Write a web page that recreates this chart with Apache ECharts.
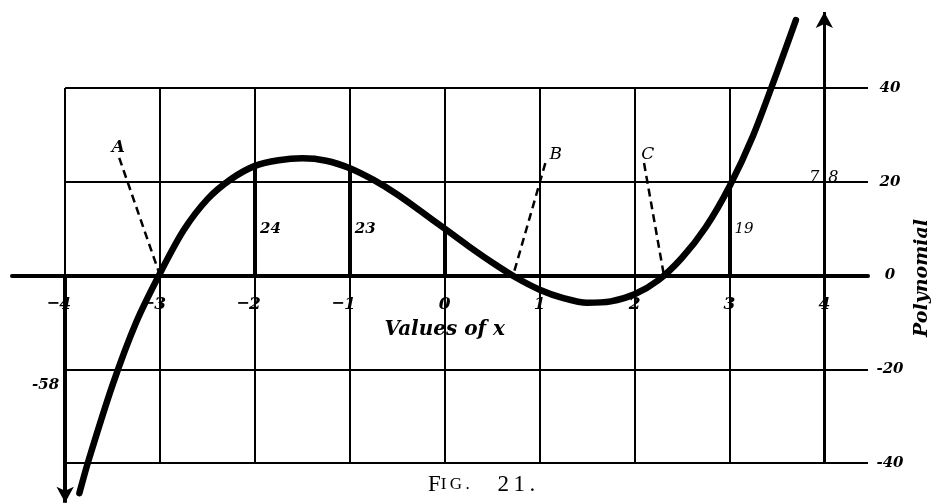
<!DOCTYPE html>
<html>
<head>
<meta charset="utf-8">
<script src="https://cdn.jsdelivr.net/npm/echarts@6/dist/echarts.min.js"></script>
<style>
html, body { margin: 0; padding: 0; background: #fff; }
#chart { width: 932px; height: 503px; }
</style>
</head>
<body>
<div id="chart"></div>
<script>
'use strict';

// values of x and of the polynomial
var xs = [-3.85, -3.75, -3.5, -3.25, -3, -2.75, -2.5, -2.25, -2, -1.75, -1.5, -1.25, -1,
    -0.75, -0.5, -0.25, 0, 0.25, 0.5, 0.75, 1, 1.25, 1.5, 1.75, 2, 2.25, 2.5, 2.75, 3,
    3.25, 3.5, 3.7];
var poly = [-46.4, -39.2, -23.3, -9.9, 0.5, 9.7, 16.3, 20.6, 23.4, 24.6, 25.0, 24.5, 22.9,
    20.4, 17.3, 13.7, 10, 6.3, 2.8, -0.4, -3, -4.8, -5.8, -5.5, -4, -1.0, 3.8, 10.3, 19,
    29.9, 43.3, 54.5];

// ordinates at whole values of x
var ordX = [-4, -2, -1, 0, 3, 4];
var ordY = [-58, 24, 23, 10, 19, 78];

// roots marked with letters
var rootName = ['A', 'B', 'C'];
var rootX = [-3, 0.72, 2.31];

// tick labels
var xTicks = [-4, -3, -2, -1, 0, 1, 2, 3, 4];
var yTicks = [-40, -20, 0, 20, 40];

var X_MIN = -4.56, X_MAX = 4.46, Y_MIN = -48.5, Y_MAX = 58;
var ink = '#000';
var serif = '"DejaVu Serif", "Liberation Serif", serif';
var times = '"Liberation Serif", "DejaVu Serif", serif';

function seg(x1, y1, x2, y2, width, type, endSymbol) {
    return [
        { coord: [x1, y1], symbol: 'none' },
        { coord: [x2, y2], symbol: endSymbol || 'none', symbolSize: [13, 16],
          lineStyle: { color: ink, width: width, type: type || 'solid' } }
    ];
}

// grid and construction lines
var lines = [];
yTicks.forEach(function (y) {
    if (y !== 0) lines.push(seg(-4, y, X_MAX, y, 2));
});
xTicks.forEach(function (x) {
    if (x !== 4) lines.push(seg(x, -40, x, 40, 2));
});
// polynomial axis with arrow
lines.push(seg(4, -40, 4, 56.2, 3, 'solid', 'arrow'));
ordX.forEach(function (x, i) {
    var y = ordY[i];
    if (y < Y_MIN) {
        lines.push(seg(x, 0, x, Y_MIN + 0.05, 4, 'solid', 'arrow'));
    } else if (x !== 4) {
        lines.push(seg(x, 0, x, y, 4));
    }
});
// dashed leaders from the letters to the roots
var tagTop = [[-3.43, 25.1], [1.06, 24], [2.10, 24]];
var tagPos = [[-3.44, 27.4], [1.17, 25.9], [2.14, 25.9]];
rootX.forEach(function (x, i) {
    lines.push(seg(tagTop[i][0], tagTop[i][1], x, 0, 2.5, [8, 5]));
});

// texts
var numFont = { fontFamily: serif, fontStyle: 'italic', fontWeight: 'bold', fontSize: 15, color: ink, opacity: 1 };
var texts = [];
ordX.forEach(function (x, i) {
    var y = ordY[i];
    var s = String(y);
    if (y < Y_MIN) {
        texts.push({ value: [x, -23.4], label: Object.assign({ position: 'left', distance: 6, formatter: s }, numFont) });
    } else if (y > Y_MAX) {
        texts.push({ value: [x, 20.8], label: Object.assign({ position: 'left', distance: 5, formatter: s.charAt(0) }, numFont, { fontWeight: 'normal', fontSize: 16 }) });
        texts.push({ value: [x, 20.8], label: Object.assign({ position: 'right', distance: 4, formatter: s.charAt(1) }, numFont, { fontWeight: 'normal', fontSize: 16 }) });
    } else if (x !== 0) {
        texts.push({ value: [x, 9.9], label: Object.assign({ position: 'right', distance: 5, formatter: s }, numFont, x === 3 ? { fontWeight: 'normal' } : {}) });
    }
});
rootName.forEach(function (n, i) {
    texts.push({ value: tagPos[i], label: { position: 'inside', formatter: n, fontFamily: serif, fontStyle: 'italic',
        fontWeight: i === 0 ? 'bold' : 'normal', fontSize: 17, color: ink, opacity: 1 } });
});
// values of x under the axis
xTicks.forEach(function (x) {
    texts.push({
        value: [x, 0],
        label: {
            position: 'bottom', distance: 20, opacity: 1,
            formatter: x < 0 ? '{m|\u2212}{d|' + (-x) + '}{p|}' : '{d|' + x + '}',
            rich: {
                m: { fontFamily: serif, fontWeight: 'bold', fontSize: 16, color: ink, width: 12 },
                d: { fontFamily: serif, fontStyle: 'italic', fontWeight: 'bold', fontSize: 17, color: ink },
                p: { width: 12 }
            }
        }
    });
});
texts.push({ value: [0, 0], label: { position: 'bottom', distance: 44, formatter: 'Values of x', opacity: 1,
    fontFamily: serif, fontStyle: 'italic', fontWeight: 'bold', fontSize: 20, color: ink } });

var chart = echarts.init(document.getElementById('chart'));
chart.setOption({
    animation: false,
    backgroundColor: '#fff',
    grid: { left: 12, right: 64, top: 3.625, bottom: 0, containLabel: false, outerBoundsMode: 'none' },
    xAxis: {
        type: 'value', min: X_MIN, max: X_MAX,
        axisLine: { onZero: true, lineStyle: { color: ink, width: 4 } },
        axisTick: { show: false },
        splitLine: { show: false },
        axisLabel: { show: false }
    },
    yAxis: {
        type: 'value', min: Y_MIN, max: Y_MAX, position: 'right',
        axisLine: { show: false, onZero: false },
        axisTick: { show: false },
        splitLine: { show: false },
        axisLabel: {
            customValues: yTicks,
            margin: 22,
            align: 'center',
            padding: [7, 0, 0, 0],
            fontFamily: serif, fontStyle: 'italic', fontWeight: 'bold', fontSize: 15, color: ink
        }
    },
    series: [
        {
            type: 'scatter', data: [], z: 1, silent: true, clip: false,
            markLine: {
                silent: true, symbol: ['none', 'none'], label: { show: false },
                lineStyle: { color: ink, width: 2, type: 'solid', opacity: 1 },
                emphasis: { disabled: true },
                data: lines
            }
        },
        {
            type: 'line', z: 5, silent: true, clip: false,
            data: xs.map(function (x, i) { return [x, poly[i]]; }),
            smooth: 0.3, showSymbol: false,
            lineStyle: { color: ink, width: 6.5, cap: 'round' }
        },
        {
            type: 'scatter', z: 6, silent: true, clip: false, symbolSize: 0,
            itemStyle: { opacity: 1 },
            data: texts,
            label: { show: true, opacity: 1 }
        }
    ],
    graphic: [{
        type: 'text', x: 922, y: 278, rotation: Math.PI / 2,
        style: {
            text: 'Polynomial', align: 'center', verticalAlign: 'middle',
            font: 'italic bold 19px ' + serif, fill: ink
        }
    }, {
        type: 'text', left: 428, top: 473,
        style: {
            text: '{a|F}{b|I\u2009G\u2009.}{a|\u2003\u20092\u20091\u2009.}',
            rich: {
                a: { fontFamily: times, fontSize: 23, fill: ink },
                b: { fontFamily: times, fontSize: 17, fill: ink }
            }
        }
    }]
});
</script>
</body>
</html>
